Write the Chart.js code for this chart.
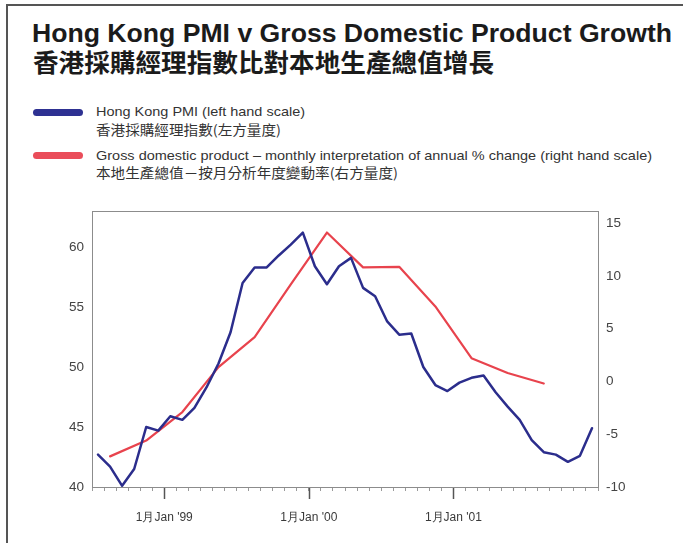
<!DOCTYPE html>
<html>
<head>
<meta charset="utf-8">
<script src="https://cdn.jsdelivr.net/npm/chart.js@4.4.1/dist/chart.umd.min.js"></script>
<style>
  body { margin: 0; width: 683px; height: 543px; background: #fff; position: relative; overflow: hidden;
         font-family: "Liberation Sans", Arial, sans-serif; }
  .t { position: absolute; white-space: nowrap; line-height: 1; transform-origin: 0 0; }
  .en-title { font-size: 25px; font-weight: bold; color: #1b1b1b; }
  .cn-title { font-family: "Noto Sans CJK TC", sans-serif; font-size: 25px; font-weight: 700; color: #1b1b1b; }
  .leg { font-size: 13.5px; color: #333; }
  .leg-cn { font-family: "Noto Sans CJK TC", sans-serif; font-size: 13.5px; color: #333; }
  .swatch { position: absolute; left: 33px; width: 50px; height: 7px; border-radius: 4px; }
  #frameTop { position: absolute; left: 7px; top: 4px; width: 676px; height: 2px; background: #555; }
  #frameLeft { position: absolute; left: 6px; top: 4px; width: 2px; height: 539px; background: #555; }
  #pmiChart { position: absolute; left: 0; top: 195px; }
</style>
</head>
<body>
<div id="frameTop"></div>
<div id="frameLeft"></div>

<div class="t en-title" style="left:32px; top:21px" data-w="640">Hong Kong PMI v Gross Domestic Product Growth</div>
<div class="t cn-title" style="left:33px; top:49px" data-w="461">香港採購經理指數比對本地生產總值增長</div>

<div class="swatch" style="top:109px; background:#2e3192"></div>
<div class="t leg" style="left:96px; top:105px" data-w="209">Hong Kong PMI (left hand scale)</div>
<div class="t leg-cn" style="left:96px; top:123px" data-w="185">香港採購經理指數(左方量度)</div>

<div class="swatch" style="top:152px; background:#ea4d5a"></div>
<div class="t leg" style="left:96px; top:149px" data-w="556">Gross domestic product – monthly interpretation of annual % change (right hand scale)</div>
<div class="t leg-cn" style="left:96px; top:166px" data-w="302">本地生產總值－按月分析年度變動率(右方量度)</div>

<canvas id="pmiChart" width="683" height="348"></canvas>

<script>
// months (mid-month points), Hong Kong PMI, left scale
const pmiMonths = [
  '1998-07', '1998-08', '1998-09', '1998-10', '1998-11', '1998-12',
  '1999-01', '1999-02', '1999-03', '1999-04', '1999-05', '1999-06',
  '1999-07', '1999-08', '1999-09', '1999-10', '1999-11', '1999-12',
  '2000-01', '2000-02', '2000-03', '2000-04', '2000-05', '2000-06',
  '2000-07', '2000-08', '2000-09', '2000-10', '2000-11', '2000-12',
  '2001-01', '2001-02', '2001-03', '2001-04', '2001-05', '2001-06',
  '2001-07', '2001-08', '2001-09', '2001-10', '2001-11', '2001-12'
];
const pmiValues = [
  42.7, 41.7, 40.1, 41.5, 45.0, 44.7,
  45.9, 45.6, 46.6, 48.3, 50.3, 52.9,
  57.0, 58.3, 58.3, 59.3, 60.2, 61.2,
  58.4, 56.9, 58.4, 59.1, 56.6, 55.9,
  53.8, 52.7, 52.8, 50.0, 48.5, 48.0,
  48.7, 49.1, 49.3, 47.9, 46.7, 45.6,
  43.9, 42.9, 42.7, 42.1, 42.6, 44.9
];

// GDP annual % change, right scale (line joins the quarterly mid points)
const gdpMonths = [
  '1998-08', '1998-11', '1999-02', '1999-05', '1999-08', '1999-11', '2000-02',
  '2000-05', '2000-08', '2000-11', '2001-02', '2001-05', '2001-08'
];
const gdpValues = [-7.1, -5.6, -2.9, 1.35, 4.2, 9.2, 14.1, 10.8, 10.85, 7.1, 2.2, 0.8, -0.2];

// axes
const leftTicks = [40, 45, 50, 55, 60];
const rightTicks = [-10, -5, 0, 5, 10, 15];
const yearTickMonths = ['1999-01', '2000-01', '2001-01'];
const yearTickLabels = ["1月Jan '99", "1月Jan '00", "1月Jan '01"];

// month offset from Jan 1999 (start of month)
function monthPos(m) {
  const [y, mo] = m.split('-').map(Number);
  return (y - 1999) * 12 + (mo - 1);
}
const yearTicks = yearTickMonths.map(monthPos);

// stretch each text block to the width it has in the print
function fitTexts() {
  document.querySelectorAll('.t').forEach(el => {
    el.style.transform = 'none';
    const w = el.getBoundingClientRect().width;
    el.style.transform = 'scaleX(' + (Number(el.dataset.w) / w) + ')';
  });
}
fitTexts();
if (document.fonts) document.fonts.ready.then(fitTexts);

const frameAndTicks = {
  id: 'frameAndTicks',
  beforeDatasetsDraw(chart) {
    const { ctx, chartArea: a } = chart;
    ctx.save();
    ctx.strokeStyle = '#8c8c8c';
    ctx.lineWidth = 1;
    ctx.strokeRect(Math.round(a.left) + 0.5, Math.round(a.top) + 0.5, Math.round(a.width), Math.round(a.height));
    ctx.restore();
  },
  afterDraw(chart) {
    const { ctx, chartArea: a, scales } = chart;
    ctx.save();
    ctx.strokeStyle = '#555';
    ctx.lineWidth = 1.5;
    yearTicks.forEach(v => {
      const px = Math.round(scales.x.getPixelForValue(v)) + 0.5;
      ctx.beginPath();
      ctx.moveTo(px, a.bottom + 1);
      ctx.lineTo(px, a.bottom + 12);
      ctx.stroke();
    });
    ctx.restore();
  }
};

const ctx = document.getElementById('pmiChart').getContext('2d');
const chart = new Chart(ctx, {
  type: 'line',
  data: {
    datasets: [
      {
        label: 'Hong Kong PMI',
        data: pmiMonths.map((m, i) => ({ x: monthPos(m) + 0.5, y: pmiValues[i] })),
        borderColor: '#2b2d8c',
        borderWidth: 2.5,
        yAxisID: 'yLeft',
        order: 1
      },
      {
        label: 'Gross domestic product',
        data: gdpMonths.map((m, i) => ({ x: monthPos(m) + 0.5, y: gdpValues[i] })),
        borderColor: '#e8434d',
        borderWidth: 2.2,
        yAxisID: 'yRight',
        order: 2
      }
    ]
  },
  options: {
    responsive: false,
    animation: false,
    devicePixelRatio: 1,
    layout: { padding: { top: 15, left: 0, right: 0, bottom: 0 } },
    elements: { point: { radius: 0 }, line: { tension: 0, borderCapStyle: 'round', borderJoinStyle: 'round' } },
    plugins: { legend: { display: false }, tooltip: { enabled: false } },
    scales: {
      x: {
        type: 'linear',
        min: -6,
        max: 36,
        afterBuildTicks: s => {
          const t = [];
          for (let v = -6; v <= 36; v++) t.push({ value: v });
          s.ticks = t;
        },
        afterFit: s => { s.height = 56; },
        grid: { drawOnChartArea: false, drawTicks: true, tickLength: 4, color: '#9a9a9a', lineWidth: 1 },
        border: { display: false },
        ticks: {
          autoSkip: false,
          maxRotation: 0,
          padding: 19,
          color: '#3a3a3a',
          font: { family: "'Liberation Sans', Arial, sans-serif", size: 12 },
          callback: v => {
            const k = yearTicks.indexOf(v);
            return k >= 0 ? yearTickLabels[k] : '';
          }
        }
      },
      yLeft: {
        type: 'linear',
        position: 'left',
        min: 40,
        max: 63,
        afterBuildTicks: s => { s.ticks = leftTicks.map(v => ({ value: v })); },
        afterFit: s => { s.width = 92; },
        grid: { display: false, drawTicks: false },
        border: { display: false },
        ticks: { padding: 8, color: '#444', font: { family: "'Liberation Sans', Arial, sans-serif", size: 13.5 } }
      },
      yRight: {
        type: 'linear',
        position: 'right',
        min: -10,
        max: 16.13,
        afterBuildTicks: s => { s.ticks = rightTicks.map(v => ({ value: v })); },
        afterFit: s => { s.width = 85; },
        grid: { display: false, drawTicks: false },
        border: { display: false },
        ticks: { padding: 8, color: '#444', font: { family: "'Liberation Sans', Arial, sans-serif", size: 13.5 } }
      }
    }
  },
  plugins: [frameAndTicks]
});
</script>
</body>
</html>
